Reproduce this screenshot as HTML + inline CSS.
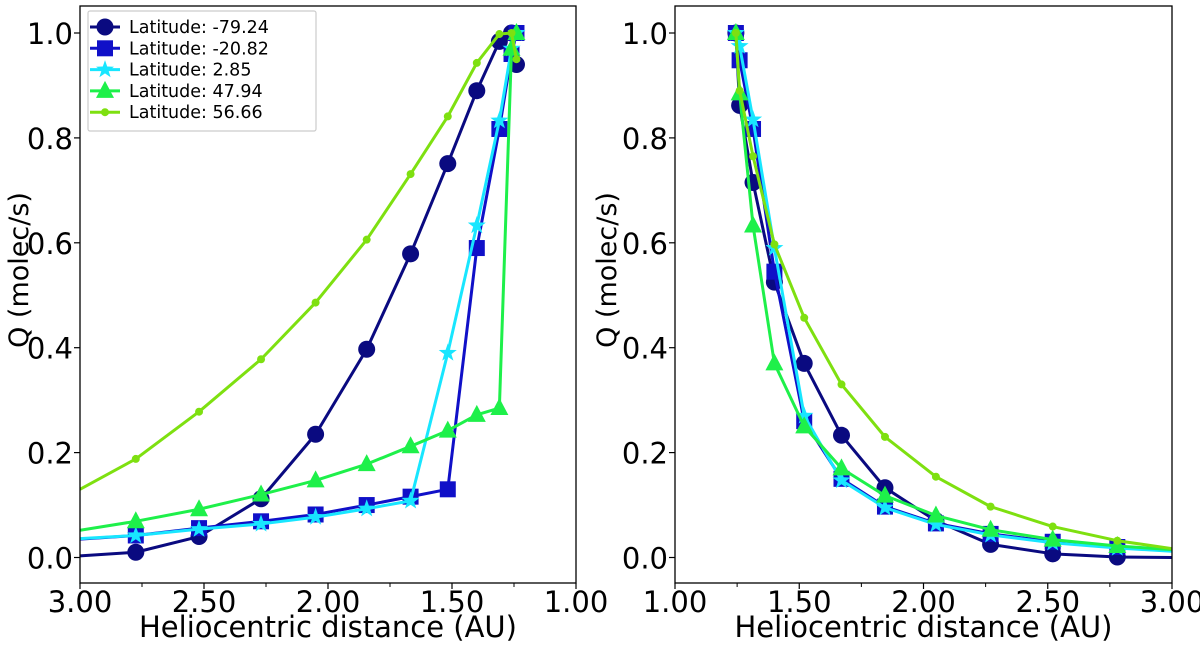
<!DOCTYPE html>
<html><head><meta charset="utf-8"><style>
body{margin:0;background:#fff;width:1200px;height:646px;overflow:hidden}
svg text{font-family:"DejaVu Sans","Liberation Sans",sans-serif;fill:#000}
</style></head><body>
<svg id="c" width="1200" height="646"></svg>
<script>
const legendLabels=["Latitude: -79.24","Latitude: -20.82","Latitude: 2.85","Latitude: 47.94","Latitude: 56.66"];
const xTicks=[1.0,1.5,2.0,2.5,3.0];
const xTickLabels=["1.00","1.50","2.00","2.50","3.00"];
const yTicks=[0,0.2,0.4,0.6,0.8,1.0];
const yTickLabels=["0.0","0.2","0.4","0.6","0.8","1.0"];
// left panel
const L_x=[3.0,2.775,2.52,2.27,2.05,1.844,1.667,1.517,1.40,1.309,1.26,1.24];
const L_s1=[0.003,0.01,0.04,0.112,0.235,0.397,0.579,0.751,0.89,0.984,1.0,0.94];
const L_s2=[0.035,0.042,0.056,0.069,0.082,0.10,0.116,0.13,0.59,0.817,0.96,1.0];
const L_s3=[0.036,0.042,0.054,0.064,0.077,0.093,0.108,0.39,0.633,0.833,0.97,1.0];
const L_s4=[0.052,0.069,0.092,0.12,0.147,0.178,0.212,0.242,0.272,0.285,0.97,1.0];
const L_s5=[0.13,0.188,0.278,0.378,0.486,0.606,0.731,0.841,0.943,0.998,1.0,0.95];
// right panel
const R_x=[1.245,1.26,1.314,1.40,1.52,1.67,1.845,2.05,2.27,2.52,2.78,3.0];
const R_s1=[1.0,0.862,0.715,0.525,0.37,0.233,0.133,0.07,0.025,0.007,0.001,0.0];
const R_s2=[1.0,0.948,0.817,0.545,0.26,0.15,0.097,0.065,0.045,0.03,0.02,0.015];
const R_s3=[1.0,0.975,0.835,0.59,0.27,0.147,0.095,0.063,0.043,0.028,0.018,0.012];
const R_s4=[1.0,0.885,0.633,0.37,0.25,0.17,0.118,0.08,0.053,0.034,0.022,0.015];
const R_s5=[1.0,0.89,0.765,0.597,0.457,0.33,0.23,0.154,0.097,0.059,0.032,0.017];

const colors=["#0a0a80","#1010c8","#18e6ff","#1ef04a","#7ee010"];
const markers=["circle","square","star","triangle","dot"];
const NS="http://www.w3.org/2000/svg";
const svg=document.getElementById("c");
function mk(t,a,p){const e=document.createElementNS(NS,t);for(const k in a)e.setAttribute(k,a[k]);(p||svg).appendChild(e);return e;}
function marker(g,type,x,y,c){
  let e;
  if(type==="circle")e=mk("circle",{cx:x,cy:y,r:8.5,fill:c},g);
  else if(type==="square")e=mk("rect",{x:x-8,y:y-8,width:16,height:16,fill:c},g);
  else if(type==="dot")e=mk("circle",{cx:x,cy:y,r:4,fill:c},g);
  else if(type==="triangle")e=mk("polygon",{points:`${x},${y-10} ${x-9},${y+7} ${x+9},${y+7}`,fill:c},g);
  else{let p=[];for(let i=0;i<10;i++){const r=i%2?3.8:9.5,a=-Math.PI/2+i*Math.PI/5;p.push((x+r*Math.cos(a)).toFixed(1)+","+(y+r*Math.sin(a)).toFixed(1));}
    e=mk("polygon",{points:p.join(" "),fill:c},g);}
  return e;
}
function panel(name,x0,x1,reverse,xs,series,ylabX){
  const top=6,bot=583;
  const X=v=>reverse? x0+(3-v)/2*(x1-x0) : x0+(v-1)/2*(x1-x0);
  const Y=v=>557.5-v*524.5;
  const g=mk("g",{});
  
  
  const cp=mk("clipPath",{id:"cp"+name},g);
  mk("rect",{x:x0,y:top,width:x1-x0,height:bot-top},cp);
  const pg=mk("g",{"clip-path":`url(#cp${name})`},g);
  series.forEach((s,i)=>{
    const sg=mk("g",{},pg);
    
    
    mk("polyline",{points:xs.map((v,j)=>X(v)+","+Y(s[j])).join(" "),fill:"none",stroke:colors[i],"stroke-width":3,"stroke-linejoin":"round"},sg);
    xs.forEach((v,j)=>{if(v<3)marker(sg,markers[i],X(v),Y(s[j]),colors[i]);});
  });
  mk("rect",{x:x0,y:top,width:x1-x0,height:bot-top,fill:"none",stroke:"#000","stroke-width":1.3},g);
  xTicks.forEach((v,i)=>{
    const px=X(v);
    mk("line",{x1:px,x2:px,y1:bot,y2:bot+6,stroke:"#000","stroke-width":1.2},g);
    const t=mk("text",{x:px,y:612,"text-anchor":"middle","font-size":29},g);t.textContent=xTickLabels[i];
    
    
    if(v<3)mk("line",{x1:X(v+0.25),x2:X(v+0.25),y1:bot,y2:bot+4,stroke:"#000","stroke-width":1},g);
  });
  yTicks.forEach((v,i)=>{
    const py=Y(v);
    mk("line",{x1:x0-6,x2:x0,y1:py,y2:py,stroke:"#000","stroke-width":1.2},g);
    const t=mk("text",{x:x0-7,y:py+11,"text-anchor":"end","font-size":29},g);t.textContent=yTickLabels[i];
    
    
  });
  const xl=mk("text",{x:(x0+x1)/2,y:637,"text-anchor":"middle","font-size":29},g);xl.textContent="Heliocentric distance (AU)";
  
  
  const yl=mk("text",{x:0,y:0,"text-anchor":"middle","font-size":27,transform:`translate(${ylabX},${270}) rotate(-90)`},g);yl.textContent="Q (molec/s)";
  
  
}
panel("left-panel",80,576,true,L_x,[L_s1,L_s2,L_s3,L_s4,L_s5],28);
panel("right-panel",675,1172,false,R_x,[R_s1,R_s2,R_s3,R_s4,R_s5],616);
// legend
const lg=mk("g",{});


mk("rect",{x:88,y:11,width:228,height:120,fill:"#fff",stroke:"#ccc","stroke-width":1.2,rx:2},lg);
legendLabels.forEach((l,i)=>{
  const y=27+i*21.3;
  const e=mk("g",{},lg);
  
  
  mk("line",{x1:90,x2:120,y1:y,y2:y,stroke:colors[i],"stroke-width":3},e);
  marker(e,markers[i],105,y,colors[i]);
  const t=mk("text",{x:129,y:y+6,"font-size":17.5},e);t.textContent=l;
});
</script>
</body></html>
